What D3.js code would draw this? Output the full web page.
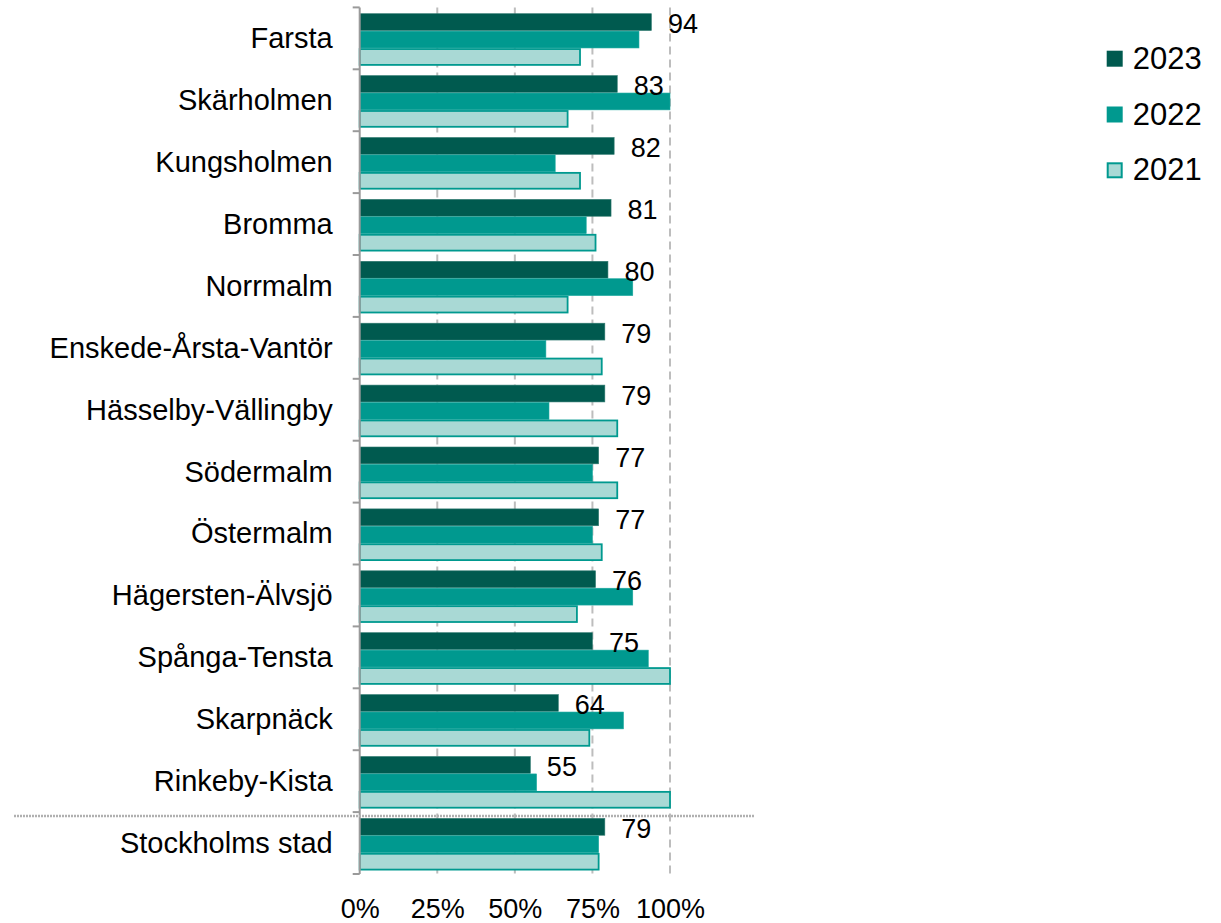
<!DOCTYPE html>
<html>
<head>
<meta charset="utf-8">
<script src="https://cdn.jsdelivr.net/npm/d3@7"></script>
<style>
  html, body { margin: 0; padding: 0; background: #fff; }
  svg { display: block; font-family: "Liberation Sans", Arial, sans-serif; }
</style>
</head>
<body>
<svg id="chart" width="1221" height="923"></svg>
<script>
const categories = ["Farsta", "Skärholmen", "Kungsholmen", "Bromma", "Norrmalm",
  "Enskede-Årsta-Vantör", "Hässelby-Vällingby", "Södermalm", "Östermalm",
  "Hägersten-Älvsjö", "Spånga-Tensta", "Skarpnäck", "Rinkeby-Kista", "Stockholms stad"];
const series = ["2023", "2022", "2021"];
const values2023 = [94, 83, 82, 81, 80, 79, 79, 77, 77, 76, 75, 64, 55, 79];
const values2022 = [90, 100, 63, 73, 88, 60, 61, 75, 75, 88, 93, 85, 57, 77];
const values2021 = [71, 67, 71, 76, 67, 78, 83, 83, 78, 70, 100, 74, 100, 77];
const labels2023 = ["94", "83", "82", "81", "80", "79", "79", "77", "77", "76", "75", "64", "55", "79"];
const xTicks = [0, 25, 50, 75, 100];
const totalLabel = "Stockholms stad";

const fills = { "2023": "#005A4F", "2022": "#00998F", "2021": "#A9D9D5" };
const strokes = { "2023": "#2f7a70", "2022": "#1aa89e", "2021": "#00998F" };
const seriesValues = { "2023": values2023, "2022": values2022, "2021": values2021 };

const svg = d3.select("#chart");
const x = d3.scaleLinear().domain([0, 100]).range([359.7, 670]);
const y0 = d3.scaleBand().domain(categories).range([7.4, 874]).paddingInner(0).paddingOuter(0);
const y1 = d3.scaleBand().domain(series).range([6, 58.3]).padding(0);

// gridlines
svg.append("g").selectAll("line").data(xTicks.filter(t => t > 0)).join("line")
  .attr("x1", d => x(d)).attr("x2", d => x(d))
  .attr("y1", 7.4).attr("y2", 874)
  .attr("stroke", "#bdbdbd").attr("stroke-width", 2)
  .attr("stroke-dasharray", "8,5");

// bars
const groups = svg.append("g").selectAll("g").data(categories).join("g")
  .attr("transform", d => `translate(0,${y0(d)})`);
groups.selectAll("rect").data((c, i) => series.map(s => ({ s, v: seriesValues[s][i] }))).join("rect")
  .attr("x", x(0))
  .attr("y", d => y1(d.s) + (d.s === "2021" ? 0.8 : 0.3))
  .attr("width", d => x(d.v) - x(0))
  .attr("height", d => y1.bandwidth() - (d.s === "2021" ? 1.6 : 0.6))
  .attr("fill", d => fills[d.s])
  .attr("stroke", d => strokes[d.s])
  .attr("stroke-width", d => d.s === "2021" ? 1.8 : 0.6);

// value labels
svg.append("g").selectAll("text").data(categories).join("text")
  .attr("x", (c, i) => x(values2023[i]) + 16.5)
  .attr("y", c => y0(c) + y1("2023") + y1.bandwidth() + 2.5)
  .attr("font-size", 27).attr("fill", "#000")
  .text((c, i) => labels2023[i]);

// left axis
const yAxis = d3.axisLeft(y0).tickSize(0).tickPadding(27);
const ya = svg.append("g").attr("transform", `translate(${x(0)},0)`).call(yAxis);
ya.select(".domain").remove();
ya.selectAll("text").attr("font-size", 29).attr("fill", "#000")
  .attr("font-family", '"Liberation Sans", Arial, sans-serif')
  .attr("dy", "0.34em");
// axis line and boundary ticks
svg.append("line").attr("x1", x(0)).attr("x2", x(0)).attr("y1", 7.4).attr("y2", 874)
  .attr("stroke", "#9a9a9a").attr("stroke-width", 2);
const bounds = categories.map(c => y0(c)).concat([y0.range()[1]]);
svg.append("g").selectAll("line").data(bounds).join("line")
  .attr("x1", x(0) - 7).attr("x2", x(0)).attr("y1", d => d).attr("y2", d => d)
  .attr("stroke", "#9a9a9a").attr("stroke-width", 2);

// separator
svg.append("line").attr("x1", 14).attr("x2", 755)
  .attr("y1", y0(totalLabel) + 4).attr("y2", y0(totalLabel) + 4)
  .attr("stroke", "#b0b0b0").attr("stroke-width", 2.5).attr("stroke-dasharray", "2,1");

// x axis labels
const xAxis = d3.axisBottom(x).tickValues(xTicks).tickFormat(d => d + "%").tickSize(0).tickPadding(0);
const xa = svg.append("g").attr("transform", "translate(0,918)").call(xAxis);
xa.select(".domain").remove();
xa.selectAll("text").attr("font-size", 27).attr("fill", "#000").attr("dy", 0)
  .attr("font-family", '"Liberation Sans", Arial, sans-serif');

// legend
const legend = svg.append("g").selectAll("g").data(series).join("g")
  .attr("transform", (d, i) => `translate(1106.7,${50.7 + i * 55.8})`);
legend.append("rect")
  .attr("x", d => d === "2021" ? 1 : 0).attr("y", d => d === "2021" ? 1 : 0)
  .attr("width", d => d === "2021" ? 14 : 16).attr("height", d => d === "2021" ? 14 : 16)
  .attr("fill", d => fills[d])
  .attr("stroke", d => d === "2021" ? strokes[d] : "none").attr("stroke-width", 2);
legend.append("text").attr("x", 26).attr("y", 18)
  .attr("font-size", 31).attr("fill", "#000").text(d => d);
</script>
</body>
</html>
